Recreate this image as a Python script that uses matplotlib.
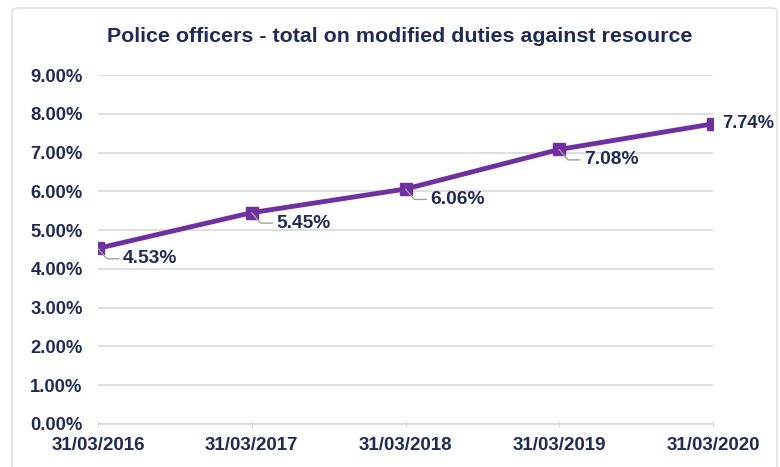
import matplotlib
matplotlib.use("Agg")
import matplotlib.pyplot as plt
from matplotlib.patches import FancyBboxPatch

dates = ["31/03/2016", "31/03/2017", "31/03/2018", "31/03/2019", "31/03/2020"]
values = [4.53, 5.45, 6.06, 7.08, 7.74]
y_ticks = [0, 1, 2, 3, 4, 5, 6, 7, 8, 9]

navy = "#1f2b57"
purple = "#7030a0"
grid = "#d9d9d9"

plt.rcParams["font.family"] = ["Liberation Sans", "DejaVu Sans"]

fig = plt.figure(figsize=(7.8, 4.67), dpi=100)
fig.patch.set_facecolor("white")

# chart frame
frame = FancyBboxPatch((12 / 780, -0.05), (777 - 12) / 780, (467 - 8) / 467 + 0.05,
                       boxstyle="round,pad=0,rounding_size=0.008",
                       transform=fig.transFigure, fill=False,
                       edgecolor="#dcdcdc", linewidth=1.0)
fig.patches.append(frame)

ax = fig.add_axes([98 / 780, 1 - 424 / 467, (713 - 98) / 780, (424 - 75) / 467])
x = list(range(len(dates)))
ax.plot(x, values, color=purple, linewidth=3.5, marker="s", markersize=8.5,
        markerfacecolor=purple, markeredgecolor=purple, zorder=3)

ax.set_xlim(0, len(dates) - 1)
ax.set_ylim(0, 9)
ax.set_yticks(y_ticks)
ax.set_yticklabels([f"{v:.2f}%" for v in y_ticks])
ax.set_xticks(x)
ax.set_xticklabels(dates)
ax.grid(axis="y", color=grid, linewidth=1.2)
ax.set_axisbelow(True)
for s in ["top", "right", "left"]:
    ax.spines[s].set_visible(False)
ax.spines["bottom"].set_color(grid)
ax.spines["bottom"].set_linewidth(1.2)
ax.tick_params(axis="y", length=0, pad=11, labelsize=13.3, labelcolor=navy)
ax.tick_params(axis="x", length=5, direction="inout", color=grid, pad=7,
               labelsize=13.5, labelcolor=navy)
for lab in ax.get_xticklabels() + ax.get_yticklabels():
    lab.set_fontweight("bold")

# value labels with leader lines
for i, v in enumerate(values):
    if i == len(values) - 1:
        ax.annotate(f"{v:.2f}%", (i, v), xytext=(7, 0), textcoords="offset points",
                    ha="left", va="center", fontsize=13.2, fontweight="bold",
                    color=navy, annotation_clip=False)
    else:
        ax.annotate(f"{v:.2f}%", (i, v), xytext=(18, -7.5), textcoords="offset points",
                    ha="left", va="center", fontsize=13.8, fontweight="bold",
                    color=navy, annotation_clip=False,
                    arrowprops=dict(arrowstyle="-", color="#a0a0a0", linewidth=1.0,
                                    shrinkA=1, shrinkB=0,
                                    connectionstyle="angle,angleA=0,angleB=-50,rad=0"))

fig.text(400 / 780, 1 - 37 / 467, "Police officers - total on modified duties against resource",
         ha="center", va="center", fontsize=15.4, fontweight="bold", color=navy)

fig.savefig("out.png", dpi=100)
